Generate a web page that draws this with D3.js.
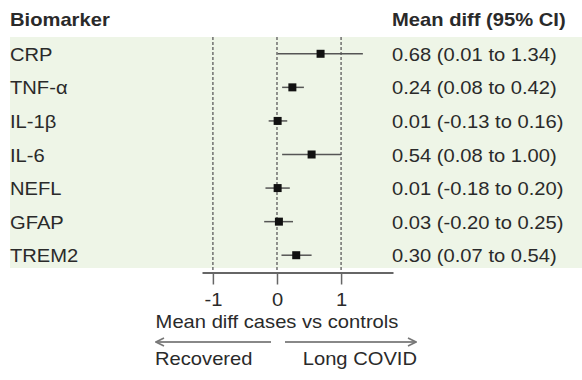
<!DOCTYPE html>
<html>
<head>
<meta charset="utf-8">
<script src="https://cdn.jsdelivr.net/npm/d3@7"></script>
<style>
  body { margin: 0; background: #fff; }
  text { font-family: "Liberation Sans", Arial, sans-serif; fill: #2a2a2a; }
</style>
</head>
<body>
<svg id="forest" width="582" height="380"></svg>
<script>
const biomarkers = ["CRP", "TNF-α", "IL-1β", "IL-6", "NEFL", "GFAP", "TREM2"];
const meanDiff = [0.68, 0.24, 0.01, 0.54, 0.01, 0.03, 0.30];
const ciLow = [0.01, 0.08, -0.13, 0.08, -0.18, -0.20, 0.07];
const ciHigh = [1.34, 0.42, 0.16, 1.00, 0.20, 0.25, 0.54];
const ciLabels = ["0.68 (0.01 to 1.34)", "0.24 (0.08 to 0.42)", "0.01 (-0.13 to 0.16)",
  "0.54 (0.08 to 1.00)", "0.01 (-0.18 to 0.20)", "0.03 (-0.20 to 0.25)", "0.30 (0.07 to 0.54)"];
const tickValues = [-1, 0, 1];

const svg = d3.select("#forest");
const sx = 1.12; // glyphs in the picture are a bit wide

const xScale = d3.scaleLinear().domain([-1.17, 1.81]).range([202, 393]);
const yScale = d3.scaleBand().domain(biomarkers).range([37, 272]);
const axisY = 272.5;

function txt(x, y, s, anchor, weight) {
  svg.append("g")
    .attr("transform", `translate(${x},${y}) scale(${sx},1)`)
    .append("text")
    .attr("text-anchor", anchor || "start")
    .attr("font-weight", weight || "normal")
    .attr("font-size", 18)
    .text(s);
}

// green panel
svg.append("rect")
  .attr("x", 10).attr("y", 37)
  .attr("width", 572).attr("height", 231)
  .attr("fill", "#eef5e7");

// dashed reference lines
svg.selectAll(".ref")
  .data(tickValues)
  .enter().append("line")
  .attr("x1", d => xScale(d)).attr("x2", d => xScale(d))
  .attr("y1", 37).attr("y2", axisY)
  .attr("stroke", "#666").attr("stroke-width", 1.4)
  .attr("stroke-dasharray", "3,2");

// axis
const xAxis = d3.axisBottom(xScale).tickValues(tickValues)
  .tickSize(12).tickSizeOuter(0).tickPadding(9)
  .tickFormat(d3.format("d"));
const gx = svg.append("g")
  .attr("transform", `translate(0,${axisY})`)
  .call(xAxis);
gx.select(".domain").attr("stroke", "#666").attr("stroke-width", 2);
gx.selectAll(".tick line").attr("stroke", "#666").attr("stroke-width", 1.5);
gx.selectAll(".tick text")
  .attr("font-size", 18).attr("fill", "#2a2a2a")
  .attr("font-family", "Liberation Sans, Arial, sans-serif")
  .attr("transform", `scale(${sx},1)`)
  .text(d => d < 0 ? "-" + Math.abs(d) : d);

// headers
txt(10, 26, "Biomarker", "start", "bold");
txt(392, 26, "Mean diff (95% CI)", "start", "bold");

const rows = biomarkers.map((b, i) => ({
  name: b, est: meanDiff[i], lo: ciLow[i], hi: ciHigh[i], label: ciLabels[i]
}));

rows.forEach(d => {
  const cy = yScale(d.name) + yScale.bandwidth() / 2;
  txt(10, cy + 7, d.name);
  txt(392, cy + 7, d.label);
});

// CI lines
svg.selectAll(".ci")
  .data(rows)
  .enter().append("line")
  .attr("x1", d => xScale(d.lo)).attr("x2", d => xScale(d.hi))
  .attr("y1", d => yScale(d.name) + yScale.bandwidth() / 2)
  .attr("y2", d => yScale(d.name) + yScale.bandwidth() / 2)
  .attr("stroke", "#555").attr("stroke-width", 1.5);

// point estimates
svg.selectAll(".pt")
  .data(rows)
  .enter().append("rect")
  .attr("x", d => xScale(d.est) - 4)
  .attr("y", d => yScale(d.name) + yScale.bandwidth() / 2 - 4)
  .attr("width", 8).attr("height", 8)
  .attr("fill", "#111");

// axis title and direction arrows
txt(xScale(0), 328, "Mean diff cases vs controls", "middle");

const defs = svg.append("defs");
defs.append("marker")
  .attr("id", "head")
  .attr("viewBox", "0 0 10 10").attr("refX", 9).attr("refY", 5)
  .attr("markerWidth", 5).attr("markerHeight", 5)
  .attr("orient", "auto-start-reverse")
  .append("path").attr("d", "M1,1 L9,5 L1,9")
  .attr("fill", "none").attr("stroke", "#777").attr("stroke-width", 1.6);

svg.append("line")
  .attr("x1", 271).attr("x2", 156).attr("y1", 342).attr("y2", 342)
  .attr("stroke", "#888").attr("stroke-width", 2)
  .attr("marker-end", "url(#head)");
svg.append("line")
  .attr("x1", 285).attr("x2", 416).attr("y1", 342).attr("y2", 342)
  .attr("stroke", "#888").attr("stroke-width", 2)
  .attr("marker-end", "url(#head)");

txt(155, 365, "Recovered", "start");
txt(417, 365, "Long COVID", "end");
</script>
</body>
</html>
